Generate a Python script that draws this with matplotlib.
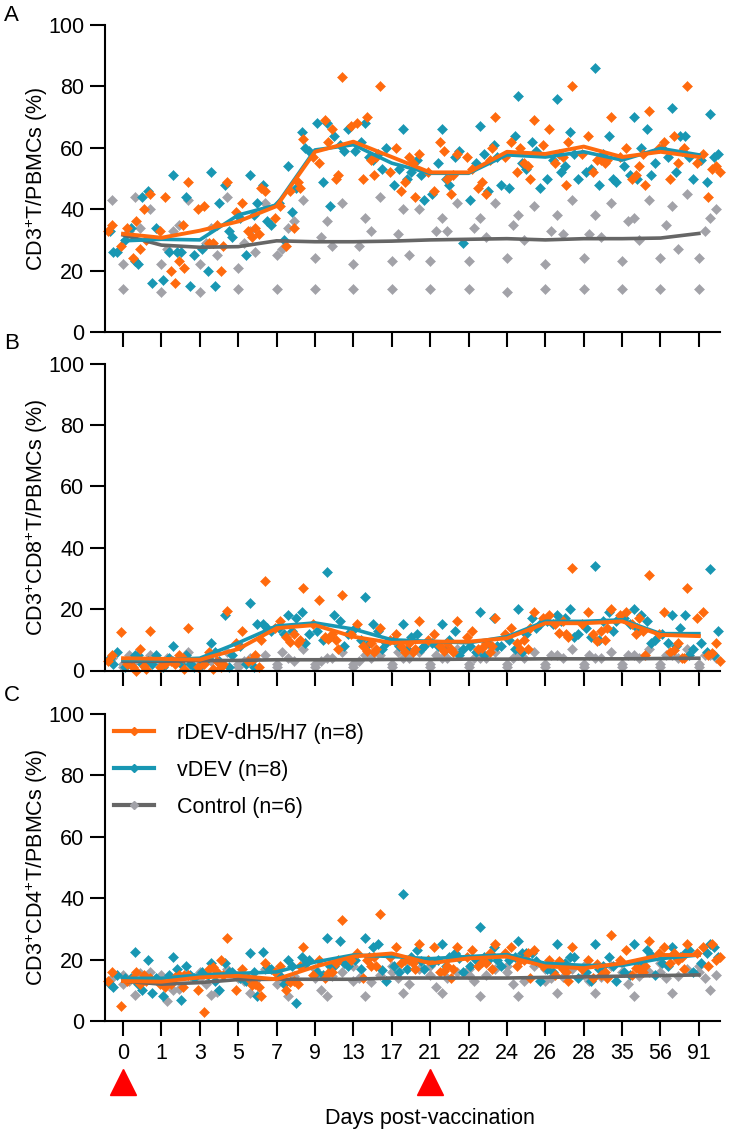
"""
CD3+ / CD3+CD8+ / CD3+CD4+ T cells in PBMCs after vaccination
three panels, individual birds as diamonds, group means as lines
"""

import matplotlib
matplotlib.use("Agg")
import matplotlib.pyplot as plt
from matplotlib.lines import Line2D
from matplotlib.transforms import blended_transform_factory
import numpy as np

plt.rcParams['font.family'] = ['Liberation Sans', 'DejaVu Sans']
plt.rcParams['mathtext.fontset'] = 'custom'
plt.rcParams['mathtext.rm'] = 'Liberation Sans'
plt.rcParams['mathtext.it'] = 'Liberation Sans:italic'
plt.rcParams['mathtext.bf'] = 'Liberation Sans:bold'

# Days post-vaccination (categorical axis)
days = ["0", "1", "3", "5", "7", "9", "13", "17", "21", "22", "24", "26", "28", "35", "56", "91"]
boost_days = ["0", "21"]

groups = ["rDEV-dH5/H7 (n=8)", "vDEV (n=8)", "Control (n=6)"]

# ---------- Panel A: CD3+ T / PBMCs ----------
A_rdev_mean = [32, 30.7, 33, 36, 41, 58.7, 62, 57, 52, 52, 58.7, 58, 60.4, 57, 58.7, 57]
A_vdev_mean = [29.7, 30.2, 30, 38.1, 41.4, 59.3, 61, 55, 51.7, 51.7, 57.7, 57, 58.7, 56, 59.8, 57.7]
A_ctrl_mean = [31.6, 28.3, 27.6, 27.8, 29.7, 29.4, 29.4, 29.6, 30, 30.2, 30.4, 30, 30.4, 30.4, 30.6, 32.1]

A_rdev = [
    [35, 34, 28, 27, 24, 33, 40, 36],
    [45, 44, 33, 23, 20, 30, 35, 16],
    [49, 41, 40, 35, 29, 21, 20, 29],
    [49, 42, 39, 34, 33, 28, 32, 31],
    [46, 41, 37, 34, 28, 47, 49, 46],
    [63, 55, 57, 66, 69, 47, 50, 62],
    [83, 68, 67, 56, 50, 51, 51, 70],
    [80, 60, 52, 57, 46, 57, 55, 49],
    [58, 46, 52, 50, 62, 44, 45, 59],
    [58, 53, 57, 45, 47, 51, 56, 49],
    [70, 62, 57, 55, 52, 60, 54, 60],
    [69, 66, 61, 57, 55, 50, 48, 58],
    [80, 64, 58, 56, 52, 62, 55, 56],
    [70, 60, 57, 54, 50, 56, 58, 51],
    [72, 62, 60, 55, 50, 48, 59, 64],
    [80, 58, 55, 54, 44, 60, 52, 53],
]
A_vdev = [
    [23, 33, 44, 30, 26, 34, 22, 26],
    [51, 46, 26, 17, 34, 26, 26, 16],
    [52, 44, 42, 27, 25, 20, 15, 15],
    [51, 48, 42, 37, 31, 25, 38, 33],
    [54, 48, 47, 42, 35, 30, 39, 36],
    [68, 65, 64, 68, 59, 49, 41, 60],
    [68, 61, 56, 59, 66, 62, 57, 59],
    [66, 58, 52, 48, 60, 53, 50, 53],
    [66, 56, 48, 45, 43, 55, 50, 51],
    [67, 57, 46, 43, 29, 55, 58, 59],
    [77, 61, 53, 47, 48, 64, 55, 57],
    [76, 62, 54, 50, 47, 56, 52, 59],
    [86, 65, 58, 52, 50, 53, 48, 58],
    [70, 64, 60, 54, 49, 51, 50, 50],
    [73, 66, 64, 60, 55, 57, 52, 51],
    [71, 64, 58, 56, 50, 49, 57, 57],
]
A_ctrl = [
    [43, 44, 33, 14, 22, 34],
    [40, 33, 27, 13, 22, 35],
    [43, 34, 29, 13, 22, 25],
    [44, 33, 29, 14, 21, 26],
    [42, 34, 27, 14, 25, 36],
    [43, 36, 31, 14, 24, 28],
    [42, 37, 28, 14, 22, 33],
    [44, 40, 32, 14, 23, 25],
    [40, 37, 33, 14, 23, 33],
    [42, 37, 34, 14, 23, 31],
    [42, 38, 35, 13, 24, 30],
    [41, 38, 33, 14, 22, 32],
    [43, 38, 32, 14, 24, 31],
    [42, 37, 36, 14, 23, 30],
    [43, 41, 35, 14, 24, 27],
    [45, 37, 33, 14, 24, 40],
]

# ---------- Panel B: CD3+CD8+ T / PBMCs ----------
B_rdev_mean = [4, 3.8, 3.5, 7, 13.8, 14.8, 11, 9, 9.4, 9.4, 10.5, 15.4, 15.4, 16, 11.6, 11.2]
B_vdev_mean = [3.5, 3.5, 4, 9, 14.5, 15.5, 13.5, 10, 9.5, 9, 11, 16, 16, 16.5, 12, 12]
B_ctrl_mean = [3, 3, 3.2, 3.3, 3.5, 3.5, 3.5, 3.6, 3.6, 3.7, 3.7, 3.8, 3.8, 3.8, 3.9, 4]

B_rdev = [
    [5, 2, 12.5, 7, 1, 3, 1.5, 0],
    [13, 2, 1, 5, 3, 0.5, 4, 2],
    [14, 2, 1, 3, 6, 0.5, 1, 0.5],
    [19.5, 13, 9, 5, 3, 2, 1, 3.5],
    [29, 16, 14, 12, 11, 10, 9, 9.4],
    [27, 23, 15, 12, 11, 10, 10, 10.4],
    [24.5, 15, 12, 9, 8, 7, 6, 6.5],
    [14, 12, 10, 9, 8, 7, 6, 6],
    [16, 12, 10, 9, 8, 7, 7, 6.2],
    [16, 13, 11, 9, 7, 6, 6, 7.2],
    [17, 14, 12, 10, 9, 8, 7, 7],
    [19, 18, 17, 16, 15, 14, 12, 12.2],
    [33.5, 19, 15, 13, 12, 11, 10, 9.7],
    [20, 19, 18, 17, 15, 14, 13, 12],
    [31, 19, 12, 9, 6, 5, 4, 6.8],
    [27, 19, 17, 9, 5, 4, 3, 5.6],
]
B_vdev = [
    [5, 4, 2, 1, 6, 3, 5, 2],
    [8, 3, 2, 1, 5, 4, 3, 2],
    [9, 5, 3, 2, 1, 4, 6, 2],
    [22, 18, 15, 8, 5, 2, 1, 1],
    [18, 15, 17, 14, 13, 12, 13, 14],
    [32, 19, 18, 13, 12, 10, 11, 9],
    [24, 16, 15, 14, 12, 10, 9, 8],
    [15, 13, 11, 10, 9, 8, 7, 7],
    [15, 12, 10, 9, 8, 8, 7, 7],
    [19, 13, 9, 8, 7, 6, 5, 5],
    [20, 17, 12, 10, 8, 7, 6, 8],
    [18, 17, 17, 16, 15, 15, 16, 14],
    [34, 20, 16, 14, 12, 11, 10, 11],
    [20, 19, 18, 17, 16, 15, 14, 13],
    [18, 16, 14, 12, 10, 9, 8, 9],
    [33, 18, 13, 9, 7, 6, 5, 5],
]
B_ctrl = [
    [4, 3, 5, 1, 2, 3],
    [5, 3, 4, 1, 2, 3],
    [6, 3, 4, 1, 2, 3],
    [6, 4, 3, 1, 2, 4],
    [5, 4, 6, 1, 2, 3],
    [7, 4, 3, 1, 2, 4],
    [6, 5, 3, 1, 2, 4],
    [5, 4, 6, 1, 2, 4],
    [6, 4, 5, 1, 2, 4],
    [7, 4, 4, 1, 2, 4],
    [6, 5, 4, 1, 2, 4],
    [6, 5, 5, 1, 2, 4],
    [7, 4, 5, 1, 2, 4],
    [6, 5, 5, 1, 2, 4],
    [7, 5, 5, 1, 2, 4],
    [7, 5, 5, 1, 2, 4],
]

# ---------- Panel C: CD3+CD4+ T / PBMCs ----------
C_rdev_mean = [13, 12.8, 14.2, 14.7, 13.6, 17.7, 21, 22, 18.8, 20.4, 21, 17.8, 17.2, 18.8, 21.5, 21.5]
C_vdev_mean = [13.9, 13.9, 15, 15.5, 16, 19.2, 21.5, 21, 20.3, 21, 21.6, 18.8, 18.1, 18.1, 20.3, 21.5]
C_ctrl_mean = [13, 12, 12.5, 13.5, 13.6, 13.6, 13.6, 14, 14, 14, 14, 14.2, 14.4, 14.6, 14.8, 15]

C_rdev = [
    [16, 13, 5, 12, 14, 13, 15, 16],
    [14, 11, 12, 15, 12, 13, 11, 14.4],
    [15, 3, 10, 16, 17, 15, 20, 17.6],
    [27, 17, 10, 12, 14, 15, 11, 11.6],
    [19, 18, 16, 13, 10, 8, 12, 12.8],
    [24, 20, 15, 16, 14, 18, 19, 15.6],
    [33, 22, 20, 18, 14, 20, 21, 20],
    [35, 24, 21, 20, 19, 18, 19, 20],
    [25, 24, 20, 18, 16, 17, 14, 16.4],
    [24, 23, 21, 19, 18, 17, 22, 19.2],
    [25, 24, 22, 20, 18, 17, 22, 20],
    [23, 20, 18, 17, 15, 14, 16, 19.4],
    [24, 20, 17, 15, 14, 13, 16, 18.6],
    [28, 23, 20, 17, 15, 14, 16, 17.4],
    [26, 24, 22, 20, 19, 18, 21, 22],
    [25, 24, 22, 20, 18, 17, 21, 25],
]
C_vdev = [
    [22.5, 12, 10, 14, 15, 14, 12, 11.2],
    [21, 20, 7, 8, 14, 15, 17, 9],
    [19, 18, 10, 16, 14, 15, 13, 15],
    [22, 19, 8, 14, 16, 13, 16, 16],
    [20, 22.5, 6, 15, 17, 12, 18, 17.5],
    [27, 21, 18, 16, 20, 15, 18, 18.6],
    [27, 26, 24, 20, 18, 17, 21, 19],
    [41.5, 25, 21, 18, 13, 16, 17, 16.5],
    [25, 23, 21, 19, 17, 20, 18, 19.4],
    [30.5, 22, 20, 18, 16, 20, 21, 20.5],
    [26, 24, 22, 20, 18, 21, 22, 19.8],
    [25, 22, 19, 17, 13, 16, 19, 19.4],
    [25, 21, 18, 16, 14, 13, 17, 20.8],
    [25, 21, 18, 16, 13, 15, 19, 17.8],
    [24, 23, 21, 19, 15, 18, 21, 21.4],
    [25, 22, 21, 19, 16, 22, 24, 23],
]
C_ctrl = [
    [14, 8.5, 13, 12, 15, 15.5],
    [16, 10, 6.5, 14, 15, 10.5],
    [15, 8.5, 12, 16, 14, 9.5],
    [17, 9, 13, 15, 14, 13],
    [17, 8, 14, 16, 12, 14.6],
    [18, 8, 10, 17, 14, 14.6],
    [16, 8, 14, 18, 13, 12.6],
    [15, 9, 14, 18, 16, 12],
    [17, 9, 11, 18, 15, 14],
    [16, 8, 13, 17, 15, 15],
    [17, 8, 12, 18, 16, 13],
    [18, 9, 14, 17, 13, 14.2],
    [17, 9, 13, 18, 15, 14.4],
    [18, 8, 12, 19, 16, 14.6],
    [16, 9, 14, 19, 16, 14.8],
    [17, 10, 14, 18, 16, 15],
]

ylabels = [
    "CD3$^{+}$T/PBMCs (%)",
    "CD3$^{+}$CD8$^{+}$T/PBMCs (%)",
    "CD3$^{+}$CD4$^{+}$T/PBMCs (%)",
]

# styling
col_rdev = "#FF6A0E"
col_vdev = "#1897B3"
col_ctrl_pt = "#A2A2A8"
col_ctrl_ln = "#666666"
fs = 15.5

# per-bird horizontal offsets around each day
off_rdev = np.array([-0.3, 0.1, -0.05, 0.45, 0.25, -0.4, 0.55, 0.35])
off_vdev = np.array([0.3, -0.35, 0.5, 0.05, -0.15, 0.2, 0.4, -0.25])
off_ctrl = np.array([-0.3, 0.3, 0.15, 0.0, 0.0, 0.45])

x = np.arange(len(days))

fig = plt.figure(figsize=(7.3, 11.31), dpi=100)
W, H = 730, 1131
left, width = 105 / W, 615 / W
bottoms_px = [332, 670.5, 1021]
height = 307 / H

panels = [
    (A_rdev, A_vdev, A_ctrl, A_rdev_mean, A_vdev_mean, A_ctrl_mean),
    (B_rdev, B_vdev, B_ctrl, B_rdev_mean, B_vdev_mean, B_ctrl_mean),
    (C_rdev, C_vdev, C_ctrl, C_rdev_mean, C_vdev_mean, C_ctrl_mean),
]
letters = ["A", "B", "C"]
letter_top_px = [5, 333, 685]

axes = []
for i, (rd, vd, ct, rdm, vdm, ctm) in enumerate(panels):
    ax = fig.add_axes([left, 1 - bottoms_px[i] / H, width, height])
    axes.append(ax)

    ms = 5.3
    for vals, offs, col in [(ct, off_ctrl, col_ctrl_pt), (vd, off_vdev, col_vdev), (rd, off_rdev, col_rdev)]:
        vals = np.array(vals, dtype=float)
        xs = x[:, None] + offs[None, :]
        ax.plot(xs.ravel(), vals.ravel(), linestyle="none", marker="D", ms=ms,
                mfc=col, mec=col, mew=0.4, zorder=2, clip_on=False)

    ax.plot(x, ctm, color=col_ctrl_ln, lw=2.6, zorder=4)
    ax.plot(x, vdm, color=col_vdev, lw=2.6, zorder=5)
    ax.plot(x, rdm, color=col_rdev, lw=2.8, zorder=6)

    ax.set_xlim(-0.47, 15.55)
    ax.set_ylim(0, 100)
    ax.set_yticks([0, 20, 40, 60, 80, 100])
    ax.set_xticks(x)
    ax.spines["top"].set_visible(False)
    ax.spines["right"].set_visible(False)
    for s in ["left", "bottom"]:
        ax.spines[s].set_linewidth(1.5)
    ax.tick_params(axis="both", length=11, width=1.5, labelsize=fs, pad=4)
    ax.tick_params(axis="x", pad=5)
    ax.set_ylabel(ylabels[i], fontsize=fs)
    ax.yaxis.set_label_coords(-0.089, 0.5)
    if i < 2:
        ax.set_xticklabels([])
    else:
        ax.set_xticklabels(days)

    fig.text(4 / W, 1 - letter_top_px[i] / H, letters[i], fontsize=16, va="top", ha="left")

axC = axes[2]
axC.set_xlabel("Days post-vaccination", fontsize=fs)
axC.xaxis.set_label_coords(0.528, -0.283)

# vaccination arrows
trans = blended_transform_factory(axC.transData, axC.transAxes)
bx = [days.index(d) for d in boost_days]
axC.plot(bx, [-0.2] * len(bx), linestyle="none", marker="^", ms=19, color="#FF0000",
         transform=trans, clip_on=False)

handles = [
    Line2D([], [], color=col_rdev, lw=3, marker="D", ms=4, mfc=col_rdev, mec=col_rdev),
    Line2D([], [], color=col_vdev, lw=3, marker="D", ms=4, mfc=col_vdev, mec=col_vdev),
    Line2D([], [], color=col_ctrl_ln, lw=3, marker="D", ms=4, mfc=col_ctrl_pt, mec=col_ctrl_pt),
]
axC.legend(handles, groups, loc="upper left", bbox_to_anchor=(-0.017, 1.035), frameon=False,
           fontsize=fs, handlelength=1.85, handletextpad=1.1, labelspacing=0.75)

fig.savefig("out.png", dpi=100)
